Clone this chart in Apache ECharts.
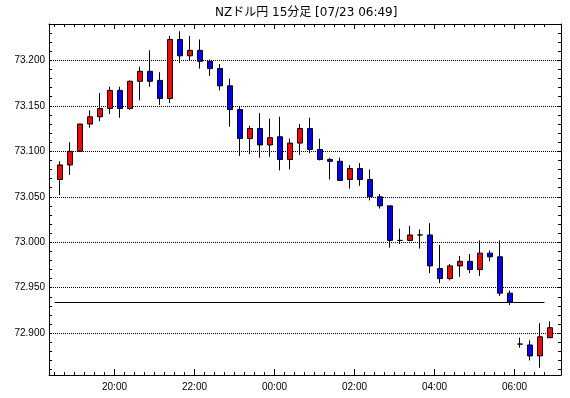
<!DOCTYPE html>
<html>
<head>
<meta charset="utf-8">
<script src="https://cdn.jsdelivr.net/npm/echarts@6/dist/echarts.min.js"></script>
<style>
  html, body { margin: 0; padding: 0; background: #fff; }
  #chart { width: 570px; height: 398px; }
</style>
</head>
<body>
<div id="chart"></div>
<script>
// 15分足の時刻
const times = [
  '18:30', '18:45', '19:00', '19:15', '19:30', '19:45', '20:00', '20:15', '20:30', '20:45',
  '21:00', '21:15', '21:30', '21:45', '22:00', '22:15', '22:30', '22:45', '23:00', '23:15',
  '23:30', '23:45', '00:00', '00:15', '00:30', '00:45', '01:00', '01:15', '01:30', '01:45',
  '02:00', '02:15', '02:30', '02:45', '03:00', '03:15', '03:30', '03:45', '04:00', '04:15',
  '04:30', '04:45', '05:00', '05:15', '05:30', '05:45', '06:00', '06:15', '06:30', '06:45'
]
// 始値
const opens = [
  73.069, 73.085, 73.100, 73.130, 73.138, 73.147, 73.167, 73.147, 73.177, 73.188,
  73.178, 73.158, 73.223, 73.205, 73.211, 73.199, 73.191, 73.172, 73.146, 73.114,
  73.125, 73.107, 73.116, 73.091, 73.109, 73.125, 73.102, 73.091, 73.089, 73.069,
  73.081, 73.069, 73.050, 73.040, 73.002, 73.002, 73.008, 73.008, 72.971, 72.960,
  72.974, 72.979, 72.970, 72.988, 72.984, 72.944, 72.888, 72.887, 72.875, 72.895
]
// 終値
const closes = [
  73.085, 73.100, 73.130, 73.138, 73.147, 73.167, 73.147, 73.177, 73.188, 73.177,
  73.158, 73.223, 73.205, 73.211, 73.199, 73.191, 73.172, 73.146, 73.114, 73.125,
  73.107, 73.115, 73.091, 73.109, 73.125, 73.102, 73.091, 73.089, 73.068, 73.081,
  73.069, 73.050, 73.040, 73.002, 73.002, 73.008, 73.008, 72.974, 72.960, 72.974,
  72.979, 72.970, 72.988, 72.984, 72.944, 72.934, 72.888, 72.875, 72.896, 72.906
]
// 安値
const lows = [
  73.052, 73.074, 73.100, 73.126, 73.133, 73.141, 73.137, 73.146, 73.156, 73.171,
  73.151, 73.153, 73.197, 73.200, 73.191, 73.183, 73.167, 73.127, 73.095, 73.097,
  73.093, 73.094, 73.079, 73.080, 73.096, 73.098, 73.090, 73.069, 73.068, 73.059,
  73.062, 73.046, 73.037, 72.994, 72.998, 73.001, 72.993, 72.966, 72.955, 72.958,
  72.962, 72.966, 72.963, 72.979, 72.941, 72.931, 72.884, 72.870, 72.862, 72.895
]
// 高値
const highs = [
  73.089, 73.110, 73.130, 73.145, 73.164, 73.171, 73.171, 73.178, 73.193, 73.211,
  73.187, 73.227, 73.232, 73.227, 73.223, 73.201, 73.196, 73.180, 73.150, 73.128,
  73.142, 73.136, 73.138, 73.114, 73.130, 73.137, 73.114, 73.093, 73.093, 73.085,
  73.087, 73.080, 73.053, 73.040, 73.015, 73.018, 73.014, 73.021, 72.997, 72.976,
  72.985, 72.987, 73.002, 72.991, 73.002, 72.947, 72.895, 72.892, 72.911, 72.913
]
// 前日終値ライン
const prevClose = 72.934
const prevCloseFrom = '18:30'
const prevCloseTo = '06:45'

const xTickLabels = ['20:00', '22:00', '00:00', '02:00', '04:00', '06:00']
const yTickLabels = ['72.900', '72.950', '73.000', '73.050', '73.100', '73.150', '73.200']
const yMin = 72.854
const yMax = 73.240

// 目盛りは足の左端
const tickShift = -0.55
const xMin = -1.1
const xMax = 50.1

const fontFamily = '"Liberation Sans", Arial, sans-serif'

const xMinorTicks = times.map((t, i) => i + tickShift)
const xMajorTicks = xTickLabels.map(t => times.indexOf(t) + tickShift)
const yMajorTicks = yTickLabels.map(Number)
let yMinorTicks = []
for (let v = 72860; v <= 73240; v += 10) {
  yMinorTicks.push(v / 1000)
}

const candles = times.map((t, i) => [i, opens[i], closes[i], lows[i], highs[i]])

// x軸を作る
const makeXAxis = function (position, ticks, len, opts) {
  return Object.assign({
    type: 'value',
    position: position,
    min: xMin,
    max: xMax,
    axisLine: { show: true, onZero: false, lineStyle: { color: '#000', width: 1 } },
    axisTick: { show: true, inside: true, length: len, customValues: ticks, lineStyle: { color: '#000', width: 1 } },
    axisLabel: { show: false },
    splitLine: { show: false }
  }, opts || {})
}

// y軸を作る
const makeYAxis = function (position, ticks, len, opts) {
  return Object.assign({
    type: 'value',
    position: position,
    min: yMin,
    max: yMax,
    axisLine: { show: true, onZero: false, lineStyle: { color: '#000', width: 1 } },
    axisTick: { show: true, inside: true, length: len, customValues: ticks, lineStyle: { color: '#000', width: 1 } },
    axisLabel: { show: false },
    splitLine: { show: false }
  }, opts || {})
}

const myChart = echarts.init(document.getElementById('chart'), null, { renderer: 'canvas' })
const option = {
  backgroundColor: '#ffffff',
  animation: false,
  title: {
    text: 'NZドル円 15分足 [07/23 06:49]',
    left: 215,
    top: 7,
    padding: 0,
    textStyle: { fontSize: 12, fontWeight: 'normal', color: '#000', fontFamily: '"DejaVu Sans", "Noto Sans CJK JP", sans-serif' }
  },
  grid: { left: 49, right: 9, top: 24, bottom: 23, containLabel: false },
  xAxis: [
    makeXAxis('bottom', xMinorTicks, 3, {
      axisLabel: {
        show: true,
        customValues: xMajorTicks,
        margin: 7,
        color: '#000',
        fontSize: 10,
        fontFamily: fontFamily,
        formatter: function (v) { return times[Math.round(v - tickShift)] }
      }
    }),
    makeXAxis('bottom', xMajorTicks, 6, { axisLine: { show: false, onZero: false } }),
    makeXAxis('top', xMinorTicks, 3),
    makeXAxis('top', xMajorTicks, 5, { axisLine: { show: false, onZero: false } })
  ],
  yAxis: [
    makeYAxis('left', yMinorTicks, 3, {
      axisLabel: {
        show: true,
        customValues: yMajorTicks,
        margin: 4,
        color: '#000',
        fontSize: 10,
        fontFamily: fontFamily,
        formatter: function (v) { return v.toFixed(3) }
      }
    }),
    makeYAxis('right', yMinorTicks, 3),
    // 点線のグリッド
    makeYAxis('left', yMajorTicks, 0, {
      axisLine: { show: false, onZero: false },
      axisTick: { show: false, customValues: yMajorTicks },
      splitLine: { show: true, lineStyle: { color: '#000', width: 1, type: [1, 1] } }
    })
  ],
  series: [{
    type: 'candlestick',
    xAxisIndex: 0,
    yAxisIndex: 0,
    data: candles,
    barWidth: 6,
    itemStyle: {
      color: '#ff0000',
      color0: '#0000ff',
      borderColor: '#000000',
      borderColor0: '#000000',
      borderColorDoji: '#000000',
      borderWidth: 1
    },
    emphasis: { disabled: true },
    markLine: {
      silent: true,
      symbol: 'none',
      label: { show: false },
      lineStyle: { color: '#000', width: 1, type: 'solid' },
      data: [[
        { coord: [times.indexOf(prevCloseFrom) + tickShift, prevClose] },
        { coord: [times.indexOf(prevCloseTo) + tickShift, prevClose] }
      ]]
    }
  }]
}
myChart.setOption(option)
</script>
</body>
</html>
